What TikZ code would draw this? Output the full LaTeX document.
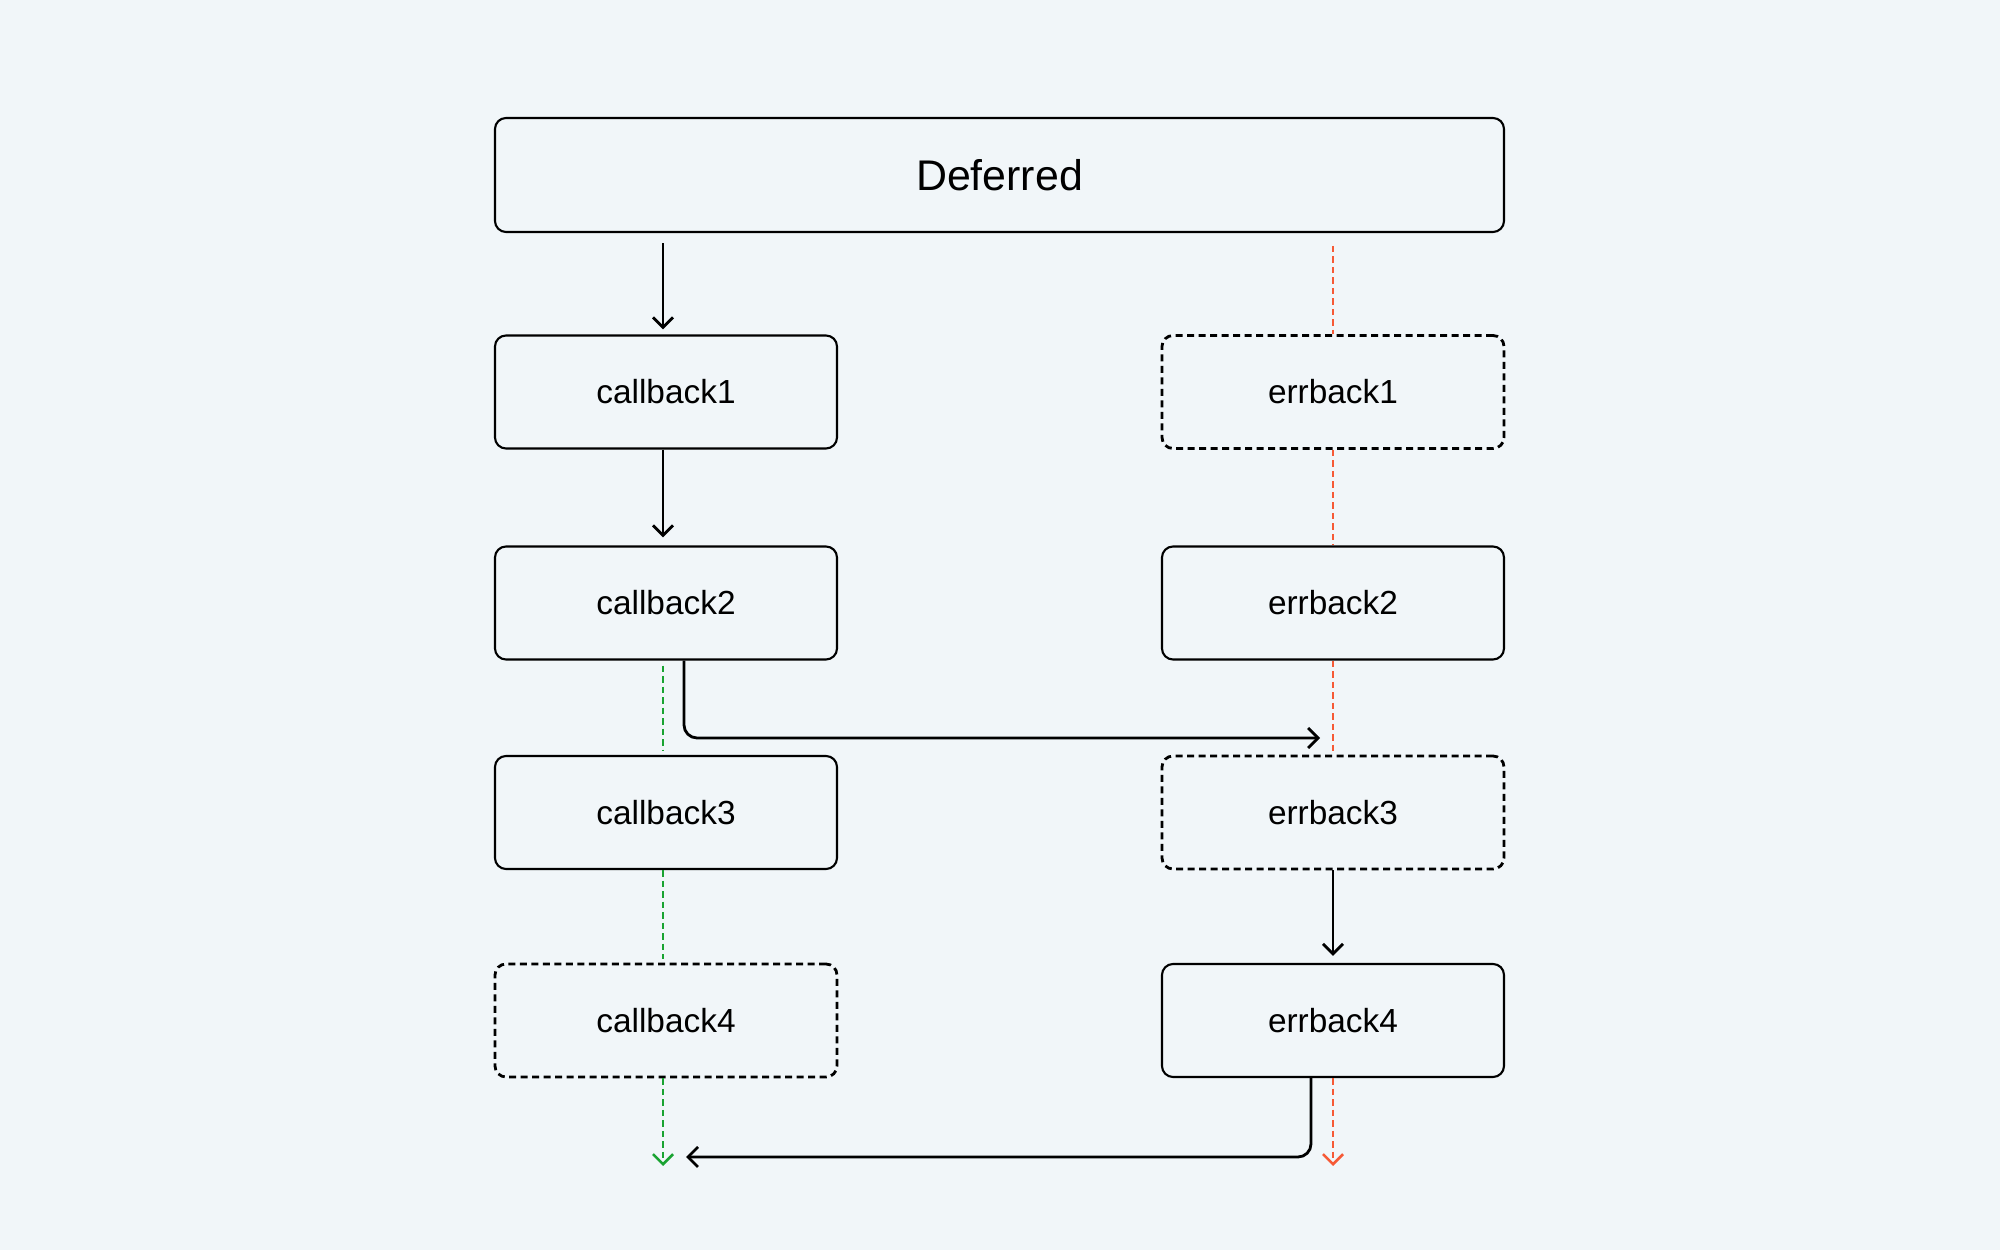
\documentclass[tikz,border=0pt]{standalone}
\usepackage{fontspec}
\setmainfont{Liberation Sans}
\usetikzlibrary{arrows.meta,calc}
\definecolor{bg}{HTML}{F1F6F9}
\definecolor{errred}{HTML}{F65A36}
\definecolor{okgreen}{HTML}{1AA332}
\begin{document}
\begin{tikzpicture}[
  box/.style={draw=black, line width=0.6pt, rounded corners=0.11cm, minimum width=3.42cm, minimum height=1.13cm, inner sep=0pt, font=\fontsize{9.5}{11}\selectfont},
  dbox/.style={box, dash pattern=on 0.07cm off 0.045cm, line width=0.8pt},
  tipb/.style={-{Straight Barb[length=0.1cm,width=0.2cm,line width=0.8pt]}},
  flow/.style={draw=black, line width=0.8pt, tipb},
  errline/.style={draw=errred, line width=0.75pt, dash pattern=on 0.065cm off 0.04cm},
  okline/.style={draw=okgreen, line width=0.75pt, dash pattern=on 0.065cm off 0.04cm}
]
\fill[bg] (0,0) rectangle (20,12.5);
\useasboundingbox (0,0) rectangle (20,12.5);

\node[box, minimum width=10.09cm, minimum height=1.14cm, font=\fontsize{12.2}{14}\selectfont] (def) at (9.995,10.75) {Deferred};

\node[box]  (cb1) at (6.66,8.58)  {callback1};
\node[box]  (cb2) at (6.66,6.47)  {callback2};
\node[box]  (cb3) at (6.66,4.375) {callback3};
\node[dbox] (cb4) at (6.66,2.295) {callback4};

\node[dbox] (eb1) at (13.33,8.58)  {errback1};
\node[box]  (eb2) at (13.33,6.47)  {errback2};
\node[dbox] (eb3) at (13.33,4.375) {errback3};
\node[box]  (eb4) at (13.33,2.295) {errback4};

\coordinate (rtop) at (13.33,10.04);
\coordinate (rend) at (13.33,0.84);
\coordinate (gend) at (6.63,0.84);
\coordinate (t1) at (13.20,5.12);
\coordinate (t2) at (6.86,0.93);

% black flow
\draw[flow, shorten <=0.1cm, shorten >=0.05cm] (def.south -| cb1.north) ++(-0.03,0) -- ([xshift=-0.03cm]cb1.north);
\draw[flow, shorten >=0.08cm] ([xshift=-0.03cm]cb1.south) -- ([xshift=-0.03cm]cb2.north);
\draw[flow, rounded corners=0.13cm] ([xshift=0.18cm]cb2.south) |- (t1);
\draw[flow, shorten >=0.07cm] (eb3.south) -- (eb4.north);
\draw[flow, rounded corners=0.13cm] ([xshift=-0.22cm]eb4.south) |- (t2);

% error path
\draw[errline] (rtop) -- (eb1.north);
\draw[errline] (eb1.south) -- (eb2.north);
\draw[errline] (eb2.south) -- (eb3.north);
\draw[errline, -{Straight Barb[length=0.1cm,width=0.2cm,line width=0.75pt]}] (eb4.south) -- (rend);

% ok path
\draw[okline, shorten <=0.05cm, shorten >=0.04cm] ([xshift=-0.03cm]cb2.south) -- ([xshift=-0.03cm]cb3.north);
\draw[okline, shorten >=0.04cm] ([xshift=-0.03cm]cb3.south) -- ([xshift=-0.03cm]cb4.north);
\draw[okline, -{Straight Barb[length=0.1cm,width=0.2cm,line width=0.75pt]}] ([xshift=-0.03cm]cb4.south) -- (gend);
\end{tikzpicture}
\end{document}
